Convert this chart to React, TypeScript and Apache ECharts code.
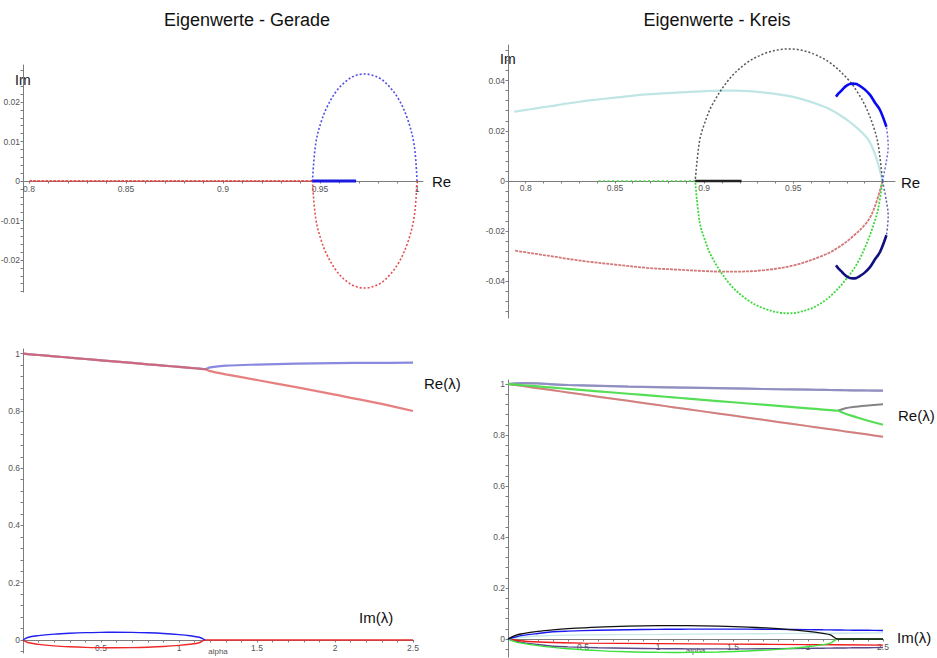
import React, { useEffect, useRef } from "react";
import * as echarts from "echarts";

// ---------- Eigenwerte - Gerade (two eigenvalues, parameter alpha) ----------
const G_ALPHA = [0, 0.03, 0.1, 0.2, 0.3, 0.4, 0.5, 0.58, 0.7, 0.8, 0.9, 1.0, 1.07, 1.13, 1.167, 1.2, 1.3, 1.5, 1.75, 2.0, 2.25, 2.5];
const G_SPLIT = 14; // index where the pair becomes real
const G_RE_BLUE = [1.0, 0.9986, 0.9954, 0.9908, 0.9861, 0.9815, 0.9769, 0.9732, 0.9677, 0.963, 0.9584, 0.9538, 0.9506, 0.9478, 0.9461, 0.952, 0.958, 0.962, 0.965, 0.967, 0.968, 0.9686];
const G_IM_BLUE = [0, 0.0089, 0.0153, 0.0205, 0.0237, 0.0258, 0.0268, 0.0271, 0.0266, 0.0251, 0.0227, 0.0189, 0.015, 0.0095, 0, 0, 0, 0, 0, 0, 0, 0];
const G_RE_RED = [1.0, 0.9986, 0.9954, 0.9908, 0.9861, 0.9815, 0.9769, 0.9732, 0.9677, 0.963, 0.9584, 0.9538, 0.9506, 0.9478, 0.9461, 0.939, 0.928, 0.908, 0.883, 0.857, 0.83, 0.8];
const G_IM_RED = [0, -0.0089, -0.0153, -0.0205, -0.0237, -0.0258, -0.0268, -0.0271, -0.0266, -0.0251, -0.0227, -0.0189, -0.015, -0.0095, 0, 0, 0, 0, 0, 0, 0, 0];

// ---------- Eigenwerte - Kreis (six eigenvalues, parameter alpha) ----------
const K_ALPHA = [0, 0.05, 0.1, 0.2, 0.3, 0.4, 0.6, 0.8, 1.0, 1.1, 1.2, 1.4, 1.6, 1.8, 2.0, 2.1, 2.15, 2.2, 2.25, 2.3, 2.4, 2.5];
const K_SPLIT = 17; // black/green pair becomes real at alpha 2.2
const K_BLUE_THICK = 3; // blue/navy points get dense from here on
const K_RE_CYAN = [1.0, 0.9959, 0.9917, 0.9835, 0.9752, 0.967, 0.9504, 0.9339, 0.9174, 0.9091, 0.9009, 0.8844, 0.8678, 0.8513, 0.8348, 0.8265, 0.8224, 0.8183, 0.8141, 0.81, 0.8017, 0.7935];
const K_IM_CYAN = [0, 0.0105, 0.0168, 0.0225, 0.0267, 0.0297, 0.0334, 0.0352, 0.036, 0.036, 0.0358, 0.0352, 0.0345, 0.0333, 0.032, 0.0312, 0.0308, 0.0303, 0.0298, 0.0294, 0.0285, 0.0276];
const K_RE_RED = [1.0, 0.9959, 0.9917, 0.9835, 0.9752, 0.967, 0.9504, 0.9339, 0.9174, 0.9091, 0.9009, 0.8844, 0.8678, 0.8513, 0.8348, 0.8265, 0.8224, 0.8183, 0.8141, 0.81, 0.8017, 0.7935];
const K_IM_RED = [0, -0.0098, -0.016, -0.022, -0.0265, -0.0296, -0.0336, -0.0355, -0.0361, -0.0361, -0.0359, -0.0353, -0.0346, -0.0334, -0.0321, -0.0313, -0.0309, -0.0304, -0.0299, -0.0295, -0.0286, -0.0277];
const K_RE_BLACK = [1.0, 0.9976, 0.9952, 0.9905, 0.9857, 0.9809, 0.9714, 0.9618, 0.9523, 0.9475, 0.9427, 0.9332, 0.9236, 0.9141, 0.9045, 0.8998, 0.8974, 0.895, 0.905, 0.91, 0.916, 0.921];
const K_IM_BLACK = [0, 0.0144, 0.0211, 0.0297, 0.0357, 0.0403, 0.0467, 0.0505, 0.0524, 0.0526, 0.0524, 0.0506, 0.0469, 0.0406, 0.0303, 0.022, 0.0158, 0, 0, 0, 0, 0];
const K_RE_GREEN = [1.0, 0.9976, 0.9952, 0.9905, 0.9857, 0.9809, 0.9714, 0.9618, 0.9523, 0.9475, 0.9427, 0.9332, 0.9236, 0.9141, 0.9045, 0.8998, 0.8974, 0.895, 0.883, 0.874, 0.856, 0.84];
const K_IM_GREEN = [0, -0.011, -0.017, -0.026, -0.033, -0.038, -0.0455, -0.0502, -0.0524, -0.0527, -0.0525, -0.0507, -0.047, -0.0408, -0.0305, -0.0222, -0.016, 0, 0, 0, 0, 0];
const K_RE_BLUE = [1.0, 1.0022, 1.0032, 1.0022, 0.9986, 0.996, 0.993, 0.99, 0.9875, 0.9865, 0.9855, 0.9835, 0.9815, 0.9795, 0.978, 0.977, 0.9765, 0.976, 0.9755, 0.975, 0.9745, 0.9739];
const K_IM_BLUE = [0, 0.008, 0.014, 0.0216, 0.0283, 0.031, 0.0343, 0.0365, 0.0378, 0.0382, 0.0386, 0.0388, 0.0386, 0.0378, 0.0368, 0.036, 0.0357, 0.0353, 0.035, 0.0346, 0.0341, 0.0336];
const K_RE_NAVY = [1.0, 1.0022, 1.0032, 1.0022, 0.9986, 0.996, 0.993, 0.99, 0.9875, 0.9865, 0.9855, 0.9835, 0.9815, 0.9795, 0.978, 0.977, 0.9765, 0.976, 0.9755, 0.975, 0.9745, 0.9739];
const K_IM_NAVY = [0, -0.008, -0.014, -0.0216, -0.0283, -0.031, -0.0343, -0.0365, -0.0378, -0.0382, -0.0386, -0.0388, -0.0386, -0.0378, -0.0368, -0.036, -0.0357, -0.0353, -0.035, -0.0346, -0.0341, -0.0336];
// Im(lambda) curves of the cyan/red pair as drawn in the lower right plot
const K2_ALPHA = [0, 0.1, 0.25, 0.5, 1.0, 1.5, 2.0, 2.5];
const K2_IM_RED = [0, -0.008, -0.013, -0.016, -0.018, -0.02, -0.022, -0.024];
const K2_IM_CYAN = [0, 0.008, 0.013, 0.016, 0.018, 0.02, 0.022, 0.024];

// ---------- tick labels ----------
const TL_X_LABELS = [0.8, 0.85, 0.9, 0.95, 1];
const TL_Y_LABELS = [-0.02, -0.01, 0, 0.01, 0.02];
const TR_X_LABELS = [0.8, 0.85, 0.9, 0.95];
const TR_Y_LABELS = [-0.04, -0.02, 0, 0.02, 0.04];
const B_X_LABELS = [0.5, 1, 1.5, 2, 2.5];
const B_Y_LABELS = [0, 0.2, 0.4, 0.6, 0.8, 1];

const FONT = "'Liberation Sans', Arial, Helvetica, sans-serif";
const AXIS_COLOR = "#7c7c7c";

const GRIDS = [
  { left: 23, top: 65, width: 400, height: 227, outerBoundsMode: "none", containLabel: false },
  { left: 508, top: 45, width: 387, height: 273, outerBoundsMode: "none", containLabel: false },
  { left: 23, top: 349, width: 390, height: 304, outerBoundsMode: "none", containLabel: false },
  { left: 508, top: 380, width: 375, height: 277, outerBoundsMode: "none", containLabel: false },
];
const X_RANGES = [
  [0.79691, 1.00309],
  [0.790078, 1.007007],
  [0, 2.5],
  [0, 2.5],
];
const Y_RANGES = [
  [-0.028101, 0.029367],
  [-0.054582, 0.054183],
  [-0.045406, 1.0164],
  [-0.070588, 1.01569],
];

function ticks(a: number, b: number, step: number): number[] {
  const out: number[] = [];
  const n = Math.round((b - a) / step);
  for (let i = 0; i <= n; i++) out.push(+(a + i * step).toFixed(6));
  return out;
}

function pairs(xs: number[], ys: number[], a = 0, b = xs.length): number[][] {
  return xs.slice(a, b).map((x, i) => [x, ys[a + i]]);
}

function valueAxis(gridIndex: number, range: number[], labels: number[], tickVals: number[], extra: any = {}) {
  return {
    type: "value",
    gridIndex,
    min: range[0],
    max: range[1],
    axisLine: { show: true, onZero: false, lineStyle: { color: AXIS_COLOR, width: 1 } },
    axisTick: { show: true, length: 2.5, customValues: tickVals, lineStyle: { color: AXIS_COLOR, width: 1 } },
    axisLabel: { customValues: labels, fontSize: 8.5, color: "#555", margin: 3, fontFamily: FONT },
    splitLine: { show: false },
    ...extra,
  };
}

// x axis drawn through Im = 0 : shift the bottom axis up to the zero line
function xAxisAt(gi: number, labels: number[], tickVals: number[], extra: any = {}) {
  const [ymin, ymax] = Y_RANGES[gi];
  const offset = -GRIDS[gi].height * (0 - ymin) / (ymax - ymin);
  return valueAxis(gi, X_RANGES[gi], labels, tickVals, { position: "bottom", offset, ...extra });
}

function line(xi: number, data: number[][], color: string, width: number, type: any = "solid", opacity = 1, z = 2) {
  return {
    type: "line",
    xAxisIndex: xi,
    yAxisIndex: xi,
    data,
    symbol: "none",
    smooth: 0.35,
    silent: true,
    z,
    lineStyle: { color, width, type, opacity },
  };
}

function txt(text: string, x: number, y: number, size: number, align = "left", color = "#111") {
  return {
    type: "text",
    x,
    y,
    silent: true,
    style: {
      text,
      fill: color,
      fontSize: size,
      fontFamily: FONT,
      align,
      verticalAlign: "middle",
      textAlign: align,
      textVerticalAlign: "middle",
    },
  };
}

export default function App() {
  const ref = useRef<HTMLDivElement>(null);

  useEffect(() => {
    if (!ref.current) return;
    const chart = echarts.init(ref.current, undefined, { renderer: "svg" });

    const nameStyle = { fontSize: 8, color: "#555", fontFamily: FONT, lineHeight: 8 };
    const alphaName = {
      name: "alpha",
      nameLocation: "middle",
      nameGap: 7,
      nameMoveOverlap: false,
      nameTextStyle: nameStyle,
    };

    const option: any = {
      animation: false,
      backgroundColor: "#ffffff",
      grid: GRIDS,
      xAxis: [
        xAxisAt(0, TL_X_LABELS, ticks(0.8, 1.0, 0.01)),
        xAxisAt(1, TR_X_LABELS, ticks(0.8, 1.0, 0.01)),
        xAxisAt(2, B_X_LABELS, ticks(0.1, 2.5, 0.1), alphaName),
        xAxisAt(3, B_X_LABELS, ticks(0.1, 2.5, 0.1), alphaName),
      ],
      yAxis: [
        valueAxis(0, Y_RANGES[0], TL_Y_LABELS, ticks(-0.028, 0.028, 0.002), { position: "left" }),
        valueAxis(1, Y_RANGES[1], TR_Y_LABELS, ticks(-0.052, 0.052, 0.004), { position: "left" }),
        valueAxis(2, Y_RANGES[2], B_Y_LABELS, ticks(-0.04, 1.0, 0.04), { position: "left" }),
        valueAxis(3, Y_RANGES[3], B_Y_LABELS, ticks(-0.04, 1.0, 0.04), { position: "left" }),
      ],
      series: [
        // ---- top left: complex plane, Gerade ----
        line(0, pairs(G_RE_RED, G_IM_RED, G_SPLIT), "#e23a3a", 2, [3, 1], 0.8),
        line(0, pairs(G_RE_BLUE, G_IM_BLUE, 0, G_SPLIT + 1), "#3c3ce6", 1.6, [2, 2], 0.9),
        line(0, pairs(G_RE_RED, G_IM_RED, 0, G_SPLIT + 1), "#e23a3a", 1.6, [2, 2], 0.9),
        line(0, pairs(G_RE_BLUE, G_IM_BLUE, G_SPLIT), "#1a1ae0", 3, "solid", 1, 3),

        // ---- top right: complex plane, Kreis ----
        line(1, pairs(K_RE_CYAN, K_IM_CYAN), "#bfe5e5", 2.2, "solid", 1),
        line(1, pairs(K_RE_RED, K_IM_RED), "#d06868", 1.8, [3, 1], 0.9),
        line(1, pairs(K_RE_GREEN, K_IM_GREEN, 0, K_SPLIT + 1), "#3cd83c", 1.8, [2, 1.5], 1),
        line(1, pairs(K_RE_GREEN, K_IM_GREEN, K_SPLIT), "#3cd83c", 1.6, [2, 2.5], 1),
        line(1, pairs(K_RE_BLACK, K_IM_BLACK, 0, K_SPLIT + 1), "#444444", 1.5, [2, 2], 0.9),
        line(1, pairs(K_RE_BLACK, K_IM_BLACK, K_SPLIT), "#222222", 2.6, "solid", 1, 3),
        line(1, pairs(K_RE_BLUE, K_IM_BLUE, 0, K_BLUE_THICK + 1), "#5a5ad6", 1.5, [2, 2], 0.9),
        line(1, pairs(K_RE_BLUE, K_IM_BLUE, K_BLUE_THICK), "#0a0af0", 2.6, "solid", 1, 3),
        line(1, pairs(K_RE_NAVY, K_IM_NAVY, 0, K_BLUE_THICK + 1), "#4a4a9a", 1.5, [2, 2], 0.9),
        line(1, pairs(K_RE_NAVY, K_IM_NAVY, K_BLUE_THICK), "#10107e", 2.6, "solid", 1, 3),

        // ---- bottom left: Re and Im over alpha, Gerade ----
        line(2, pairs(G_ALPHA, G_RE_BLUE), "#6c6cd8", 2.2, "solid", 0.8),
        line(2, pairs(G_ALPHA, G_RE_RED), "#e06060", 2.2, "solid", 0.8),
        line(2, pairs(G_ALPHA, G_IM_RED), "#ee2a2a", 1.4, "solid", 1),
        line(2, pairs(G_ALPHA, G_IM_BLUE, 0, G_SPLIT + 1), "#2020f0", 1.4, "solid", 1),

        // ---- bottom right: Re and Im over alpha, Kreis ----
        line(3, pairs(K_ALPHA, K_RE_NAVY), "#8a8ab8", 2.2, "solid", 0.9),
        line(3, pairs(K_ALPHA, K_RE_BLUE), "#8c8cc4", 2, "solid", 0.6),
        line(3, pairs(K_ALPHA, K_RE_CYAN), "#bfe5e5", 2, "solid", 0.8),
        line(3, pairs(K_ALPHA, K_RE_RED), "#d86a6a", 2, "solid", 0.85),
        line(3, pairs(K_ALPHA, K_RE_BLACK, K_SPLIT), "#777777", 2, "solid", 0.9),
        line(3, pairs(K_ALPHA, K_RE_GREEN), "#4ddc4d", 2.2, "solid", 0.95),
        line(3, pairs(K2_ALPHA, K2_IM_CYAN), "#c6e8e8", 1.4, "solid", 1),
        line(3, pairs(K_ALPHA, K_IM_NAVY), "#5a4a8a", 1.4, "solid", 1),
        line(3, pairs(K2_ALPHA, K2_IM_RED), "#ee1a1a", 1.4, "solid", 1),
        line(3, pairs(K_ALPHA, K_IM_GREEN), "#3ee03e", 1.4, "solid", 1),
        line(3, pairs(K_ALPHA, K_IM_BLUE), "#1a1af0", 1.4, "solid", 1),
        line(3, pairs(K_ALPHA, K_IM_BLACK), "#111111", 1.3, "solid", 1),
      ],
      graphic: [
        txt("Eigenwerte - Gerade", 247, 20, 18, "center"),
        txt("Eigenwerte - Kreis", 717, 20, 18, "center"),
        txt("Im", 15, 80, 14),
        txt("Re", 432, 181, 15),
        txt("Im", 500, 59, 14),
        txt("Re", 901, 182, 15),
        txt("Re(λ)", 424, 383, 15),
        txt("Im(λ)", 359, 617, 15),
        txt("Re(λ)", 898, 415, 15),
        txt("Im(λ)", 897, 637, 15),
      ],
    };

    chart.setOption(option);
    return () => chart.dispose();
  }, []);

  return (
    <div
      ref={ref}
      style={{ position: "fixed", left: 0, top: 0, width: 937, height: 658, background: "#fff" }}
    />
  );
}
